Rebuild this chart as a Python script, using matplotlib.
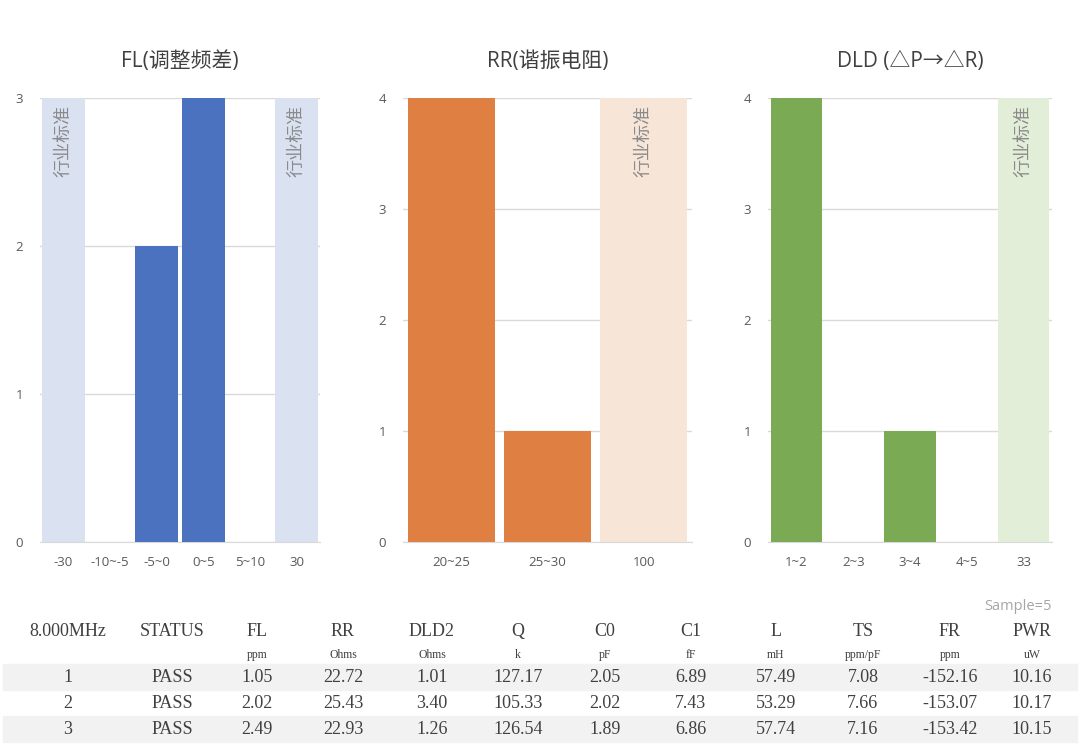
import matplotlib.pyplot as plt
from matplotlib.patches import Rectangle

plt.rcParams['font.family'] = ['Open Sans', 'Noto Sans CJK SC', 'DejaVu Sans']

W, H = 1080, 748

# chart data
fl_cats = ['-30', '-10~-5', '-5~0', '0~5', '5~10', '30']
fl_counts = [0, 0, 2, 3, 0, 0]
fl_band = [3, 0, 0, 0, 0, 3]

rr_cats = ['20~25', '25~30', '100']
rr_counts = [4, 1, 0]
rr_band = [0, 0, 4]

dld_cats = ['1~2', '2~3', '3~4', '4~5', '33']
dld_counts = [4, 0, 1, 0, 0]
dld_band = [0, 0, 0, 0, 4]

# table data
headers = ['8.000MHz', 'STATUS', 'FL', 'RR', 'DLD2', 'Q', 'C0', 'C1', 'L', 'TS', 'FR', 'PWR']
units = ['', '', 'ppm', 'Ohms', 'Ohms', 'k', 'pF', 'fF', 'mH', 'ppm/pF', 'ppm', 'uW']
sample_no = ['1', '2', '3']
status = ['PASS', 'PASS', 'PASS']
fl_vals = ['1.05', '2.02', '2.49']
rr_vals = ['22.72', '25.43', '22.93']
dld2_vals = ['1.01', '3.40', '1.26']
q_vals = ['127.17', '105.33', '126.54']
c0_vals = ['2.05', '2.02', '1.89']
c1_vals = ['6.89', '7.43', '6.86']
l_vals = ['57.49', '53.29', '57.74']
ts_vals = ['7.08', '7.66', '7.16']
fr_vals = ['-152.16', '-153.07', '-153.42']
pwr_vals = ['10.16', '10.17', '10.15']


def px_axes(fig, left, top, right, bottom):
    return fig.add_axes([left / W, 1 - bottom / H, (right - left) / W, (bottom - top) / H])


fig = plt.figure(figsize=(W / 100, H / 100), dpi=100)

panels = [
    (fl_cats, fl_counts, fl_band, 3, 'FL(调整频差)', '#4A72BF', '#DAE2F2', (40, 320), 0.93),
    (rr_cats, rr_counts, rr_band, 4, 'RR(谐振电阻)', '#E07F42', '#F7E5D8', (403, 692), 0.9),
    (dld_cats, dld_counts, dld_band, 4, 'DLD (△P→△R)', '#7BAA55', '#E3EED8', (768, 1052), 0.9),
]

for cats, counts, band, ymax, title, col, bcol, (l, r), bw in panels:
    ax = px_axes(fig, l, 98, r, 542)
    x = list(range(len(cats)))
    ax.bar(x, band, width=bw, color=bcol, zorder=2)
    ax.bar(x, counts, width=bw, color=col, zorder=3)
    for i, b in enumerate(band):
        if b:
            ax.text(i, ymax * 0.985, '行业标准', rotation=90, ha='center', va='top',
                    fontsize=13, color='#8a8a8a', zorder=4)
    ax.set_xlim(-0.5, len(cats) - 0.5)
    ax.set_ylim(0, ymax)
    ax.set_yticks(range(ymax + 1))
    ax.set_xticks(x)
    ax.set_xticklabels(cats)
    ax.yaxis.grid(True, color='#d9d9d9', lw=1, zorder=1)
    ax.set_axisbelow(True)
    for s in ['top', 'right', 'left']:
        ax.spines[s].set_visible(False)
    ax.spines['bottom'].set_color('#d9d9d9')
    ax.tick_params(axis='both', length=0, labelsize=9.5, colors='#595959')
    ax.tick_params(axis='x', pad=10)
    ax.tick_params(axis='y', pad=12)
    ax.set_title(title, fontsize=15, color='#404040', pad=22)

# table
tab = px_axes(fig, 0, 595, W, H)
tab.set_xlim(0, W)
tab.set_ylim(H, 595)
tab.axis('off')

col_x = [68, 172, 257, 343, 432, 518, 605, 691, 776, 863, 950, 1032]
serif = ['Liberation Serif', 'DejaVu Serif']

tab.text(1052, 607, 'Sample=5', ha='right', va='center', fontsize=10.5, color='#a6a6a6')
for cx, h, u in zip(col_x, headers, units):
    tab.text(cx, 632, h, ha='center', va='center', fontsize=13, color='#404040', family=serif)
    if u:
        tab.text(cx, 655, u, ha='center', va='center', fontsize=8.5, color='#404040', family=serif)

columns = [sample_no, status, fl_vals, rr_vals, dld2_vals, q_vals, c0_vals,
           c1_vals, l_vals, ts_vals, fr_vals, pwr_vals]
row_y = [677, 703, 729]
for ri, ry in enumerate(row_y):
    if ri % 2 == 0:
        tab.add_patch(Rectangle((3, ry - 13), W - 6, 26, color='#F2F2F2', zorder=0))
    for cx, colvals in zip(col_x, columns):
        tab.text(cx, ry + 1, colvals[ri], ha='center', va='center', fontsize=13,
                 color='#404040', family=serif)

fig.savefig('out.png', dpi=100)
